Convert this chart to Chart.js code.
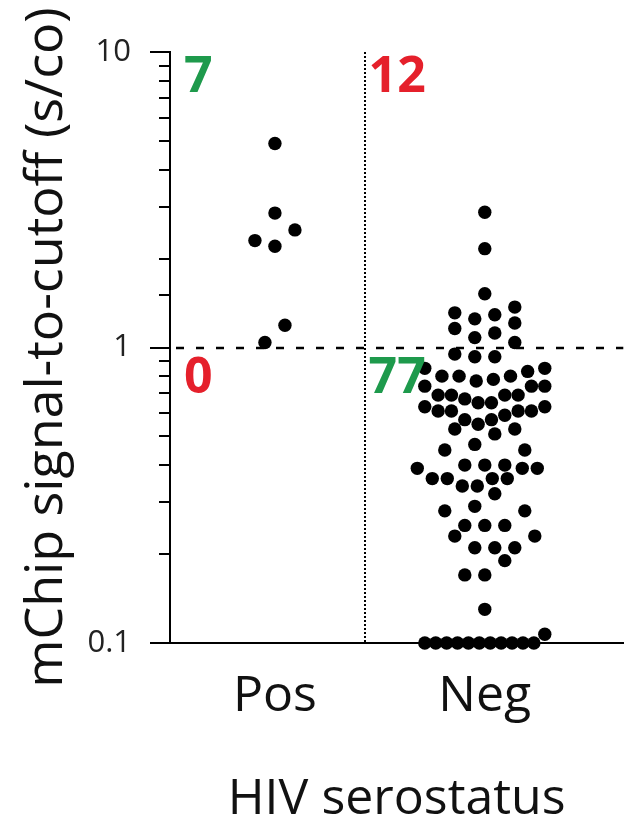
<!DOCTYPE html>
<html>
<head>
  <title>mChip signal-to-cutoff by HIV serostatus</title>
  <script src="https://cdn.jsdelivr.net/npm/chart.js"></script>
  <style>
    body { margin: 0; background: #fff; }
  </style>
</head>
<body>
  <canvas id="mchipChart" width="630" height="822"></canvas>

  <script>
    // categories on the x axis
    const categories = ['Pos', 'Neg'];

    // signal-to-cutoff values
    const posValues = [4.9, 2.85, 2.5, 2.3, 2.2, 1.19, 1.04];
    const negValues = [
      2.87, 2.16, 1.52, 1.37, 1.31, 1.29, 1.25, 1.21, 1.16, 1.12, 1.08, 1.04,
      0.95, 0.93, 0.93, 0.85, 0.85, 0.83, 0.80, 0.80, 0.80, 0.78, 0.77,
      0.74, 0.74, 0.74, 0.69, 0.69, 0.69, 0.69, 0.67, 0.65, 0.65, 0.63, 0.63,
      0.61, 0.61, 0.61, 0.61, 0.59, 0.57, 0.57, 0.55, 0.53, 0.53, 0.51,
      0.47, 0.45, 0.45, 0.40, 0.40, 0.40, 0.39, 0.39, 0.39,
      0.36, 0.36, 0.36, 0.36, 0.34, 0.34, 0.32, 0.29, 0.28, 0.28,
      0.25, 0.25, 0.25, 0.23, 0.23, 0.21, 0.21, 0.21, 0.19, 0.17, 0.17,
      0.13, 0.107,
      0.1, 0.1, 0.1, 0.1, 0.1, 0.1, 0.1, 0.1, 0.1, 0.1, 0.1
    ];

    // y axis
    const yTickValues = [0.1, 1, 10];
    const yTickLabels = ['0.1', '1', '10'];

    // reference lines
    const cutoff = 1;
    const dividerX = 1.427;

    // quadrant counts: top-left, top-right, bottom-left, bottom-right
    const countLabels = ['7', '12', '0', '77'];
    const countColors = ['#1e9a4c', '#e5202b', '#e5202b', '#1e9a4c'];

    const FONT = "'Open Sans', sans-serif";

    function isMajor(v) {
      const l = Math.log10(v);
      return Math.abs(l - Math.round(l)) < 1e-6;
    }

    // prism-like dot spreading: group points into rows, spread each row
    function swarm(values, yScale) {
      const STEP = 20, MAX_W = 120, BIN = 18, MIN_D = 13;
      const pts = values.map(v => ({ v: v, py: yScale.getPixelForValue(v), dx: 0 }));
      const sorted = pts.slice().sort((a, b) => b.py - a.py);
      const bins = [];
      sorted.forEach(p => {
        const cur = bins[bins.length - 1];
        if (cur && Math.abs(p.py - cur[0].py) < BIN) cur.push(p);
        else bins.push([p]);
      });
      const placed = [];
      bins.forEach(bin => {
        const n = bin.length;
        const step = n > 1 ? Math.min(STEP, MAX_W / (n - 1)) : STEP;
        const slots = bin.map((p, k) => (k - (n - 1) / 2) * (n > 1 ? step : 0));
        slots.sort((a, b) => Math.abs(a) - Math.abs(b) || a - b);
        const minDist = shift => {
          let d = Infinity;
          bin.forEach((p, k) => placed.forEach(q => {
            d = Math.min(d, Math.hypot(slots[k] + shift - q.dx, p.py - q.py));
          }));
          return d;
        };
        let best = 0;
        if (minDist(0) < MIN_D) {
          let bestD = -1;
          [0, step / 2, -step / 2].forEach(s => {
            const d = minDist(s);
            if (d > bestD + 0.01) { bestD = d; best = s; }
          });
        }
        bin.forEach((p, k) => { p.dx = slots[k] + best; placed.push(p); });
      });
      return pts;
    }

    const refLines = {
      id: 'refLines',
      beforeDatasetsDraw(chart) {
        const { ctx, chartArea, scales: { x, y } } = chart;
        ctx.save();
        ctx.strokeStyle = '#000';
        // cutoff line
        ctx.lineWidth = 2.5;
        ctx.setLineDash([8, 12]);
        ctx.lineDashOffset = -6;
        const yc = Math.round(y.getPixelForValue(cutoff));
        ctx.beginPath();
        ctx.moveTo(chartArea.left, yc);
        ctx.lineTo(chartArea.right, yc);
        ctx.stroke();
        // dotted divider
        ctx.lineWidth = 2;
        ctx.setLineDash([2, 2]);
        ctx.lineDashOffset = 0;
        const xd = Math.round(x.getPixelForValue(dividerX));
        ctx.beginPath();
        ctx.moveTo(xd, chartArea.top);
        ctx.lineTo(xd, chartArea.bottom);
        ctx.stroke();
        ctx.restore();
      },
      afterDraw(chart) {
        const { ctx, chartArea, scales: { x, y } } = chart;
        ctx.save();
        // minor tick marks on the log axis
        ctx.strokeStyle = '#000';
        ctx.lineWidth = 2;
        y.ticks.forEach(t => {
          if (isMajor(t.value)) return;
          const py = Math.round(y.getPixelForValue(t.value));
          ctx.beginPath();
          ctx.moveTo(chartArea.left - 11, py);
          ctx.lineTo(chartArea.left, py);
          ctx.stroke();
        });
        // quadrant counts
        ctx.font = 'bold 50px ' + FONT;
        ctx.textAlign = 'left';
        ctx.textBaseline = 'alphabetic';
        const xd = x.getPixelForValue(dividerX);
        const xs = [chartArea.left + 14, xd + 4];
        const ys = [y.getPixelForValue(10) + 40, y.getPixelForValue(cutoff) + 45];
        countLabels.forEach((txt, i) => {
          ctx.fillStyle = countColors[i];
          ctx.fillText(txt, xs[i % 2], ys[Math.floor(i / 2)]);
        });
        ctx.restore();
      }
    };

    const ctx = document.getElementById('mchipChart').getContext('2d');
    const chart = new Chart(ctx, {
      type: 'scatter',
      data: {
        datasets: [
          { label: categories[0], data: posValues.map(v => ({ x: 1, y: v })) },
          { label: categories[1], data: negValues.map(v => ({ x: 2, y: v })) }
        ]
      },
      options: {
        responsive: false,
        animation: false,
        layout: { padding: { top: 52, right: 0, left: 0, bottom: 0 } },
        elements: {
          point: { radius: 6.7, hoverRadius: 6.7, backgroundColor: '#000', borderWidth: 0 }
        },
        datasets: { scatter: { clip: false } },
        plugins: { legend: { display: false }, tooltip: { enabled: false } },
        scales: {
          x: {
            type: 'linear',
            min: 0.5,
            max: 2.66,
            afterFit: s => { s.height = 179; },
            afterBuildTicks: s => { s.ticks = categories.map((c, i) => ({ value: i + 1 })); },
            grid: { display: false, drawTicks: false },
            border: { display: true, color: '#000', width: 2 },
            ticks: {
              padding: 24,
              color: '#111',
              font: { family: FONT, size: 50 },
              callback: v => categories[v - 1] || ''
            },
            title: {
              display: true,
              text: 'HIV serostatus',
              color: '#111',
              font: { family: FONT, size: 50, lineHeight: 0.9 },
              padding: { top: 0, bottom: 0 }
            }
          },
          y: {
            type: 'logarithmic',
            min: 0.1,
            max: 10,
            afterFit: s => { s.width = 170; },
            grid: {
              display: true,
              drawOnChartArea: false,
              drawTicks: true,
              tickLength: 20,
              lineWidth: 2,
              color: c => (c.tick && isMajor(c.tick.value)) ? '#000' : 'rgba(0,0,0,0)'
            },
            border: { display: true, color: '#000', width: 2 },
            ticks: {
              autoSkip: false,
              padding: 19,
              color: '#222',
              font: { family: FONT, size: 31 },
              callback: v => {
                const i = yTickValues.findIndex(t => Math.abs(t - v) < 1e-9);
                return i >= 0 ? yTickLabels[i] : '';
              }
            },
            title: {
              display: true,
              text: 'mChip signal-to-cutoff (s/co)',
              color: '#111',
              font: { family: FONT, size: 52 },
              padding: { top: 16, bottom: 0 }
            }
          }
        }
      },
      plugins: [refLines]
    });

    // spread the dots sideways now that the scales exist
    const xs = chart.scales.x, ys = chart.scales.y;
    const unitsPerPx = 1 / (xs.getPixelForValue(2) - xs.getPixelForValue(1));
    [posValues, negValues].forEach((vals, i) => {
      chart.data.datasets[i].data = swarm(vals, ys).map(p => ({ x: i + 1 + p.dx * unitsPerPx, y: p.v }));
    });
    chart.update('none');
  </script>
</body>
</html>
